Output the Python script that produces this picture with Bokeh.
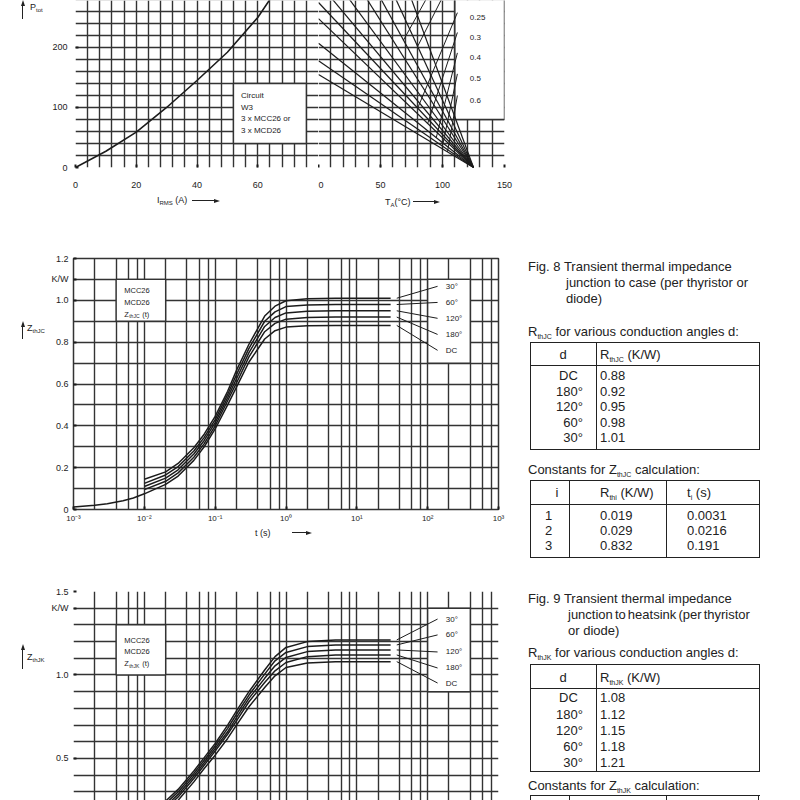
from bokeh.plotting import figure
from bokeh.models import (Range1d, FixedTicker, Grid, Label, Div, CustomJSTickFormatter)
from bokeh.layouts import row, column
from bokeh.embed import file_html
from bokeh.resources import INLINE

FONT = "Liberation Sans"
INK = "#1c1c1c"
GRID_C = "#333333"

# ---------------- top: power dissipation ----------------
I_RMS = [0, 10, 20, 30, 40, 50, 60, 64]
P_TOT = [0, 27, 59, 100, 145, 192, 250, 280]
I_TICKS = [0, 20, 40, 60]
I_GRID = list(range(0, 81, 4))
P_TICKS = [0, 100, 200]
P_GRID = list(range(0, 281, 20))
T_TICKS = [0, 50, 100, 150]
T_GRID = list(range(0, 151, 10))
T_START = 0
T_VJ = 125
P_AT_T0 = [155, 178, 207, 248, 275, 308, 350, 408, 470, 560, 700]
RTHKA_LABELS = ["0.25", "0.3", "0.4", "0.5", "0.6"]
RTHKA_LABEL_P = [250, 217, 183, 148, 112]
RTHKA_LABEL_T = 122
LEADER_T = [[112, 80], [112, 88], [112, 95], [112, 100], [112, 104], [92, 68.5], [104, 80]]
LEADER_P = [[258, 99], [225, 73], [191, 50], [156, 36], [120, 26], [300, 212], [300, 202]]
CIRCUIT_BOX = (52, 76, 40, 140)      # I left, right, P bottom, top
RLABEL_BOX = (110, 150, 80, 300)     # T left, right, P bottom, top
CIRCUIT_TEXT = ["Circuit", "W3", "3 x MCC26 or", "3 x MCD26"]
CIRCUIT_TEXT_P = [120, 100, 81, 62]

# ---------------- Fig. 8 / Fig. 9 ----------------
ANGLES = ["30°", "60°", "120°", "180°", "DC"]
T_EARLY = [0.001, 0.002, 0.003, 0.005, 0.007]
T_S = [0.01, 0.02, 0.03, 0.05, 0.07, 0.1, 0.15, 0.2, 0.3, 0.5, 0.7, 1, 2, 5, 10, 30]
ZJC_EARLY = [0.012, 0.02, 0.028, 0.042, 0.055]
ZJC_30 = [0.145, 0.18, 0.22, 0.295, 0.36, 0.445, 0.565, 0.665, 0.79, 0.925, 0.972, 0.998, 1.008, 1.01, 1.01, 1.01]
ZJC_60 = [0.125, 0.165, 0.205, 0.28, 0.345, 0.43, 0.55, 0.645, 0.77, 0.90, 0.945, 0.97, 0.978, 0.98, 0.98, 0.98]
ZJC_120 = [0.11, 0.15, 0.19, 0.265, 0.33, 0.415, 0.535, 0.625, 0.75, 0.875, 0.918, 0.94, 0.948, 0.95, 0.95, 0.95]
ZJC_180 = [0.095, 0.135, 0.175, 0.25, 0.315, 0.40, 0.52, 0.605, 0.73, 0.85, 0.89, 0.91, 0.918, 0.92, 0.92, 0.92]
ZJC_DC = [0.075, 0.12, 0.16, 0.235, 0.30, 0.385, 0.50, 0.585, 0.705, 0.815, 0.855, 0.872, 0.879, 0.88, 0.88, 0.88]
ZJC_LABEL_Z = [1.067, 0.99, 0.914, 0.837, 0.761]

ZJK_EARLY = [0.015, 0.03, 0.045, 0.065, 0.085]
ZJK_30 = [0.165, 0.245, 0.315, 0.425, 0.505, 0.59, 0.70, 0.785, 0.90, 1.03, 1.11, 1.165, 1.20, 1.21, 1.21, 1.21]
ZJK_60 = [0.15, 0.23, 0.30, 0.41, 0.49, 0.575, 0.68, 0.765, 0.88, 1.005, 1.085, 1.135, 1.17, 1.18, 1.18, 1.18]
ZJK_120 = [0.135, 0.215, 0.285, 0.395, 0.475, 0.56, 0.66, 0.745, 0.86, 0.98, 1.055, 1.105, 1.14, 1.15, 1.15, 1.15]
ZJK_180 = [0.12, 0.20, 0.27, 0.38, 0.46, 0.545, 0.645, 0.725, 0.84, 0.955, 1.025, 1.075, 1.11, 1.12, 1.12, 1.12]
ZJK_DC = [0.10, 0.18, 0.25, 0.36, 0.44, 0.52, 0.62, 0.70, 0.81, 0.925, 0.995, 1.045, 1.072, 1.08, 1.08, 1.08]
ZJK_LABEL_Z = [1.335, 1.24, 1.138, 1.042, 0.952]

T_LEAD = [36.6, 138]
T_CURVE_LABEL = 180
DECADE_TICKS = [0.001, 0.01, 0.1, 1, 10, 100, 1000]
LOG_GRID = [m * 10.0 ** e for e in range(-3, 3) for m in (1, 2, 4, 6, 8)] + [1000.0]
ZJC_TICKS = [0, 0.2, 0.4, 0.6, 0.8, 1.0, 1.1, 1.2]
ZJC_GRID = [round(0.1 * k, 1) for k in range(13)]
ZJK_TICKS = [0.5, 1.0, 1.4, 1.5]
ZJK_GRID = [round(0.1 * k, 1) for k in range(2, 16)]
JC_BOX = (0.004, 0.02, 0.9, 1.1)
JC_LBOX = (100, 400, 0.7, 1.1)
JK_BOX = (0.004, 0.02, 1.0, 1.3)
JK_LBOX = (100, 400, 0.9, 1.4)

# tables
D_ANGLES = ["DC", "180°", "120°", "60°", "30°"]
RTHJC = ["0.88", "0.92", "0.95", "0.98", "1.01"]
RTHJK = ["1.08", "1.12", "1.15", "1.18", "1.21"]
I_IDX = ["1", "2", "3"]
RTHI = ["0.019", "0.029", "0.832"]
TAU_I = ["0.0031", "0.0216", "0.191"]

LEFT_W = 48   # width of the column holding the vertical-axis titles


def base_fig(**kw):
    p = figure(output_backend="svg", toolbar_location=None, **kw)
    p.xgrid.visible = False
    p.ygrid.visible = False
    p.outline_line_color = None
    p.background_fill_color = "white"
    p.border_fill_color = "white"
    return p


def style_axis(ax, standoff):
    ax.axis_line_color = None
    ax.major_tick_in = 3
    ax.major_tick_out = 0
    ax.major_tick_line_color = INK
    ax.major_tick_line_width = 2
    ax.minor_tick_line_color = None
    ax.major_label_text_font = FONT
    ax.major_label_text_font_size = "9px"
    ax.major_label_text_color = INK
    ax.major_label_standoff = standoff


def add_grid(p, dim, ticks, width=1.4):
    p.add_layout(Grid(dimension=dim, ticker=FixedTicker(ticks=ticks),
                      grid_line_color=GRID_C, grid_line_width=width))


def label(p, x, y, text, size=8.5, align="left", xo=0, yo=0):
    p.add_layout(Label(x=x, y=y, text=text, x_offset=xo, y_offset=yo, text_font=FONT,
                       text_font_size=f"{size}px", text_color=INK, text_align=align,
                       text_baseline="middle"))


def white_box(p, b):
    p.quad(left=[b[0]], right=[b[1]], bottom=[b[2]], top=[b[3]], fill_color="white",
           line_color=GRID_C, line_width=1.4)


# ---------- top-left panel (frame x 75..318, y 0..167) ----------
P_TOP = 278.3
f1 = base_fig(width=318 - LEFT_W, height=192, x_range=Range1d(0, 80), y_range=Range1d(0, P_TOP),
              min_border_left=75 - LEFT_W, min_border_right=0, min_border_top=0, min_border_bottom=25)
f1.xaxis.ticker = FixedTicker(ticks=I_TICKS)
f1.yaxis.ticker = FixedTicker(ticks=P_TICKS)
style_axis(f1.xaxis[0], 14)
style_axis(f1.yaxis[0], 8)
add_grid(f1, 0, I_GRID)
add_grid(f1, 1, P_GRID)
white_box(f1, CIRCUIT_BOX)
for s, pv in zip(CIRCUIT_TEXT, CIRCUIT_TEXT_P):
    label(f1, CIRCUIT_BOX[0] + 2.5, pv, s, 8)
f1.line(I_RMS, P_TOT, line_color=INK, line_width=1.6)

# ---------- top-right panel (frame x 318..504) ----------
f2 = base_fig(width=200, height=192, x_range=Range1d(0, 150), y_range=Range1d(0, P_TOP),
              y_axis_location=None,
              min_border_left=0, min_border_right=14, min_border_top=0, min_border_bottom=25)
f2.xaxis.ticker = FixedTicker(ticks=T_TICKS)
style_axis(f2.xaxis[0], 14)
add_grid(f2, 0, T_GRID)
add_grid(f2, 1, P_GRID)
white_box(f2, RLABEL_BOX)
n = len(P_AT_T0)
f2.segment(x0=[T_START] * n, y0=P_AT_T0, x1=[T_VJ] * n, y1=[0] * n, line_color=INK, line_width=1.2)
f2.multi_line(xs=LEADER_T, ys=LEADER_P, line_color=INK, line_width=1.0)
for s, pv in zip(RTHKA_LABELS, RTHKA_LABEL_P):
    label(f2, RTHKA_LABEL_T, pv, s, 8)

sup_fmt = CustomJSTickFormatter(code="""
const e = Math.round(Math.log10(tick));
const m = {'-':'\u207b','0':'\u2070','1':'\u00b9','2':'\u00b2','3':'\u00b3'};
return '10' + String(e).split('').map(c => m[c]).join('');
""")


def kw_fmt(unit_at):
    return CustomJSTickFormatter(args=dict(unit_at=unit_at), code="""
if (Math.abs(tick - unit_at) < 1e-6) return 'K/W';
if (Math.abs(tick) < 1e-9) return '0';
return tick.toFixed(1);
""")


def impedance_fig(height, yr, top, bottom, xaxis, zticks, zgrid, unit_at):
    p = base_fig(width=518 - LEFT_W, height=height, x_axis_type="log", x_range=Range1d(1e-3, 1e3),
                 y_range=yr, x_axis_location="below" if xaxis else None,
                 min_border_left=72 - LEFT_W, min_border_right=20, min_border_top=top,
                 min_border_bottom=bottom)
    if xaxis:
        p.xaxis.ticker = FixedTicker(ticks=DECADE_TICKS)
        p.xaxis.formatter = sup_fmt
        style_axis(p.xaxis[0], 4)
        p.xaxis.major_label_text_font_size = "8px"
    p.yaxis.ticker = FixedTicker(ticks=zticks)
    p.yaxis.formatter = kw_fmt(unit_at)
    style_axis(p.yaxis[0], 5)
    add_grid(p, 0, LOG_GRID)
    add_grid(p, 1, zgrid)
    return p


def draw_curves(p, early, curves, label_z, box, lbox):
    white_box(p, box)
    white_box(p, lbox)
    for k, zs in enumerate(curves):
        if k == len(curves) - 1:
            p.line(T_EARLY + T_S, early + zs, line_color=INK, line_width=1.5)
        else:
            p.line(T_S, zs, line_color=INK, line_width=1.5)
        p.line(T_LEAD, [zs[-1], label_z[k]], line_color=INK, line_width=1.0)
        label(p, T_CURVE_LABEL, label_z[k], ANGLES[k], 8)


# Fig. 8 chart: frame x 72..498, y 258..509
f3 = impedance_fig(314, Range1d(0, 1.2), 46, 17, True, ZJC_TICKS, ZJC_GRID, 1.1)
f3.outline_line_color = GRID_C
f3.outline_line_width = 1.5
draw_curves(f3, ZJC_EARLY, [ZJC_30, ZJC_60, ZJC_120, ZJC_180, ZJC_DC], ZJC_LABEL_Z, JC_BOX, JC_LBOX)
for s, zv in zip(["MCC26", "MCD26"], [1.048, 0.99]):
    label(f3, 0.0052, zv, s, 7.5)
label(f3, 0.0052, 0.933, "Z", 7.5)
label(f3, 0.0052, 0.933, "thJC", 5, xo=5, yo=-2)
label(f3, 0.0052, 0.933, "(t)", 7.5, xo=18)

# Fig. 9 chart: frame x 72..498, y 591..800 (cut by the page)
f4 = impedance_fig(251, Range1d(0.2485, 1.5), 42, 0, False, ZJK_TICKS, ZJK_GRID, 1.4)
draw_curves(f4, ZJK_EARLY, [ZJK_30, ZJK_60, ZJK_120, ZJK_180, ZJK_DC], ZJK_LABEL_Z, JK_BOX, JK_LBOX)
for s, zv in zip(["MCC26", "MCD26"], [1.204, 1.138]):
    label(f4, 0.0052, zv, s, 7.5)
label(f4, 0.0052, 1.066, "Z", 7.5)
label(f4, 0.0052, 1.066, "thJK", 5, xo=5, yo=-2)
label(f4, 0.0052, 1.066, "(t)", 7.5, xo=18)

# ---------- HTML text helpers (page coordinates -> local) ----------
LC = "#222"


def sub(s, size=7, drop=3):
    return f'<span style="font-size:{size}px;position:relative;top:{drop}px">{s}</span>'


def t_at(o, x, yc, s, size=13, anchor="left"):
    ox, oy = o
    top = yc - oy - size * 0.56
    if anchor == "left":
        pos = f"left:{x - ox}px;"
    elif anchor == "right":
        pos = f"left:{x - ox - 100}px;width:100px;text-align:right;"
    else:
        pos = f"left:{x - ox - 50}px;width:100px;text-align:center;"
    return (f'<div style="position:absolute;{pos}top:{top:.1f}px;font-size:{size}px;'
            f'line-height:{size + 2}px;white-space:nowrap">{s}</div>')


def rect(o, x0, y0, x1, y1):
    ox, oy = o
    return (f'<div style="position:absolute;left:{x0 - ox}px;top:{y0 - oy}px;width:{x1 - x0}px;'
            f'height:{y1 - y0}px;border:1.5px solid {LC};box-sizing:border-box"></div>')


def hl(o, x0, x1, y, w=1.5):
    ox, oy = o
    return (f'<div style="position:absolute;left:{x0 - ox}px;top:{y - oy - w / 2}px;width:{x1 - x0}px;'
            f'height:0;border-top:{w}px solid {LC}"></div>')


def vl(o, x, y0, y1, w=1.5):
    ox, oy = o
    return (f'<div style="position:absolute;left:{x - ox - w / 2}px;top:{y0 - oy}px;width:0;'
            f'height:{y1 - y0}px;border-left:{w}px solid {LC}"></div>')


def harrow(o, x0, x1, y):
    ox, oy = o
    return (hl(o, x0, x1 - 5, y, 1.2) +
            f'<div style="position:absolute;left:{x1 - 6 - ox}px;top:{y - oy - 2.5}px;width:0;height:0;'
            f'border-left:6px solid {LC};border-top:2.5px solid transparent;'
            f'border-bottom:2.5px solid transparent"></div>')


def uarrow(o, x, ytop, ybot):
    ox, oy = o
    return (vl(o, x, ytop + 5, ybot, 1.2) +
            f'<div style="position:absolute;left:{x - ox - 2.5}px;top:{ytop - oy}px;width:0;height:0;'
            f'border-bottom:6px solid {LC};border-left:2.5px solid transparent;'
            f'border-right:2.5px solid transparent"></div>')


def make_div(o, w, h, parts):
    html = (f'<div style="position:relative;width:{w}px;height:{h}px;overflow:hidden;'
            f'font-family:\'{FONT}\',Arial,sans-serif;color:{LC}">' + "".join(parts) + "</div>")
    return Div(text=html, width=w, height=h, margin=0)


# axis-title blocks around the charts
o = (0, 0)
div_p = make_div(o, LEFT_W, 192, [t_at(o, 30, 7, "P" + sub("tot", 6, 2), 9), uarrow(o, 23, 0, 19)])
o = (0, 192)
div_xt = make_div(o, 518, 20, [
    t_at(o, 157, 200, "I" + sub("RMS", 6, 2) + " (A)", 9), harrow(o, 192, 220, 201),
    t_at(o, 385, 202, "T" + sub("A", 6, 2) + "(°C)", 9), harrow(o, 413, 440, 202)])
o = (0, 212)
div_z1 = make_div(o, LEFT_W, 314, [t_at(o, 27, 328, "Z" + sub("thJC", 6, 2), 9), uarrow(o, 23, 321, 339)])
o = (0, 526)
div_t = make_div(o, 518, 23, [t_at(o, 255, 533, "t (s)", 9), harrow(o, 292, 312, 533)])
o = (0, 549)
div_z2 = make_div(o, LEFT_W, 251, [t_at(o, 27, 657, "Z" + sub("thJK", 6, 2), 9), uarrow(o, 23, 644, 669)])

# ---------- text column ----------
o = (518, 0)


def angle_cell(a):
    if a.endswith("°"):
        return a
    return a + '<span style="visibility:hidden">°</span>'


parts = []
parts.append(t_at(o, 528, 266, "Fig. 8 Transient thermal impedance"))
parts.append(t_at(o, 566, 282, "junction to case (per thyristor or"))
parts.append(t_at(o, 566, 298, "diode)"))
parts.append(t_at(o, 528, 331, "R" + sub("thJC") + " for various conduction angles d:"))
parts.append(rect(o, 530, 342, 760, 450))
parts.append(hl(o, 530, 760, 366))
parts.append(vl(o, 597, 342, 450))
parts.append(t_at(o, 563, 354, "d", anchor="center"))
parts.append(t_at(o, 600, 354, "R" + sub("thJC") + " (K/W)"))
for a, v, yc in zip(D_ANGLES, RTHJC, [375, 391, 406, 422, 437]):
    parts.append(t_at(o, 583, yc, angle_cell(a), anchor="right"))
    parts.append(t_at(o, 600, yc, v))
parts.append(t_at(o, 528, 469, "Constants for Z" + sub("thJC") + " calculation:"))
parts.append(rect(o, 530, 480, 760, 558))
parts.append(hl(o, 530, 760, 505))
parts.append(vl(o, 570, 480, 558))
parts.append(vl(o, 667, 480, 558))
parts.append(t_at(o, 557, 492, "i", anchor="center"))
parts.append(t_at(o, 600, 492, "R" + sub("thi") + " (K/W)"))
parts.append(t_at(o, 687, 492, "t" + sub("i") + " (s)"))
for i, r, tt, yc in zip(I_IDX, RTHI, TAU_I, [515, 530, 545]):
    parts.append(t_at(o, 545, yc, i))
    parts.append(t_at(o, 600, yc, r))
    parts.append(t_at(o, 687, yc, tt))
parts.append(t_at(o, 528, 598, "Fig. 9 Transient thermal impedance"))
parts.append(t_at(o, 568, 614, '<span style="word-spacing:-1.5px">junction to heatsink (per thyristor</span>'))
parts.append(t_at(o, 568, 630, "or diode)"))
parts.append(t_at(o, 528, 652, "R" + sub("thJK") + " for various conduction angles d:"))
parts.append(rect(o, 530, 664, 760, 772))
parts.append(hl(o, 530, 760, 689))
parts.append(vl(o, 597, 664, 772))
parts.append(t_at(o, 563, 677, "d", anchor="center"))
parts.append(t_at(o, 600, 677, "R" + sub("thJK") + " (K/W)"))
for a, v, yc in zip(D_ANGLES, RTHJK, [697, 714, 730, 746, 762]):
    parts.append(t_at(o, 583, yc, angle_cell(a), anchor="right"))
    parts.append(t_at(o, 600, yc, v))
parts.append(t_at(o, 528, 785, "Constants for Z" + sub("thJK") + " calculation:"))
parts.append(hl(o, 530, 760, 796))
for xv in (531, 570, 667, 759):
    parts.append(vl(o, xv, 796, 800))
text_col = make_div(o, 280, 800, parts)

left_col = column(row(div_p, f1, f2), div_xt, row(div_z1, f3), div_t, row(div_z2, f4))
layout = row(left_col, text_col)

open("out.html", "w").write(file_html(layout, INLINE))
